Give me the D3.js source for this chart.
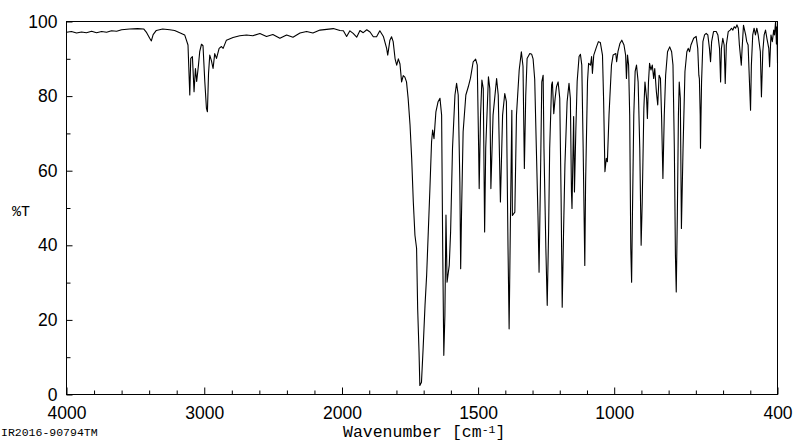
<!DOCTYPE html>
<html><head><meta charset="utf-8">
<script src="https://cdn.jsdelivr.net/npm/d3@7"></script>
<style>html,body{margin:0;padding:0;background:#fff;}svg{display:block;}</style>
</head><body>
<svg id="chart" width="800" height="441"></svg>
<script>
// Wavenumber (cm-1) and %T values
const wavenumber = [
4000,3964,3927,3891,3855,3818,3782,3745,3709,3673,3636,3600,3542,3484,3440,3418,3396,3384,3371,3348,
3302,3251,3215,3178,3142,3118,3105,3098,3086,3074,3064,3055,3042,3033,3020,3009,2996,2984,2977,2969,
2960,2948,2936,2924,2911,2892,2875,2863,2839,2791,2742,2693,2647,2596,2548,2502,2451,2402,2356,2305,
2257,2211,2160,2111,2063,2015,
1995,1983,1971,1959,1946,1934,1922,1909,1897,1885,1873,1861,1848,1836,1832,1824,1818,1812,1805,1799,
1793,1787,1781,1775,1769,1763,1757,1750,1744,1738,1732,1726,1722,1717,1714,1708,1702,1695,1689,1683,
1677,1671,1667,1662,1655,1647,1640,1634,1630,1626,1622,1618,1614,1606,1601,1594,1585,1579,1573,1567,
1564,1561,1555,1545,1536,1528,1518,1509,1503,1498,1496,1491,1486,1481,1476,1472,1462,1457,1453,1445,
1432,1426,1418,1410,1402,1396,1390,1386,1381,1376,1374,1365,1359,1349,1341,1335,1330,1325,1320,1310,
1303,1298,1292,1286,1280,1276,1271,1266,1261,1258,1251,1246,1241,1237,1230,1227,1222,1217,1212,1206,
1200,1195,1191,1186,1181,1173,1166,1161,1157,1155,1149,1146,1141,1136,1129,1124,1119,1114,1108,1105,
1098,1094,1087,1083,1080,1075,1065,1058,1051,1043,1039,1034,1029,1025,1019,1016,1010,1004,994,991,
986,979,972,964,958,955,951,947,943,939,936,933,928,923,918,912,906,901,897,891,
887,881,878,874,870,865,860,855,851,845,840,835,830,826,821,816,811,804,796,789,
784,779,775,772,768,764,761,757,753,747,740,733,728,723,718,708,699,693,689,687,
684,683,679,674,668,662,656,650,646,642,635,625,619,613,609,606,601,596,592,588,
581,574,569,564,559,554,549,544,540,533,530,525,517,513,508,503,499,496,491,486,
481,476,471,463,459,454,449,444,439,432,429,424,419,414,411,407,404,402,400
];
const transmittance = [
97.1,97.3,96.9,97.2,97.0,97.4,97.0,97.3,97.1,97.5,97.4,97.8,98.0,98.1,98.0,97.0,95.5,94.8,96.5,97.6,
98.0,97.8,97.6,97.0,96.4,93.7,80.3,90.1,90.6,81.2,87.4,83.9,88.3,91.9,93.9,93.5,83.9,76.7,75.8,86.0,
91.0,89.5,87.4,91.4,90.1,92.8,93.3,92.8,95.0,95.7,96.2,96.4,96.2,96.8,96.0,96.5,95.5,96.4,95.8,96.9,
97.3,96.9,97.7,97.9,98.1,97.6,
97.5,96.0,97.5,96.8,95.8,97.6,97.0,97.8,97.2,95.9,95.9,97.5,96.0,92.8,91.0,95.0,95.9,94.6,90.0,88.3,
90.0,88.6,83.8,85.5,85.1,83.8,79.4,72.2,63.3,51.6,42.7,39.2,23.0,11.4,2.4,3.3,12.3,23.9,32.0,43.6,
55.2,67.7,70.9,68.6,75.8,78.5,79.4,74.9,39.1,10.5,21.2,48.1,30.1,34.6,43.6,66.0,80.3,83.4,80.3,57.0,
33.7,48.0,70.4,80.3,82.5,84.8,89.2,89.9,88.3,66.0,55.2,74.9,84.3,82.0,43.6,66.0,85.2,82.0,55.2,74.9,
84.7,80.3,51.6,74.9,80.7,78.5,39.1,17.6,48.0,76.2,48.0,48.9,74.9,87.0,91.9,88.0,60.6,80.0,90.1,91.4,
91.2,90.0,84.5,66.0,48.0,32.8,57.0,83.8,85.6,66.0,39.1,23.9,43.6,66.0,83.0,83.8,75.3,79.4,82.5,83.8,
79.4,52.5,23.4,43.6,61.5,78.5,83.4,79.4,54.3,49.9,74.5,54.3,70.5,84.0,90.6,91.2,88.3,66.0,34.6,57.0,
84.0,88.8,88.3,90.6,86.1,91.0,93.2,94.6,94.4,91.0,79.4,59.7,63.3,62.4,74.9,79.4,88.3,91.0,91.4,89.2,
92.0,94.1,95.0,93.7,91.0,84.7,91.0,88.3,74.9,39.1,30.1,48.0,74.9,86.6,88.3,83.8,66.0,40.0,51.6,76.7,
83.8,79.4,74.0,83.8,88.8,87.0,88.3,84.7,87.4,81.2,77.6,85.6,84.7,74.9,57.9,74.9,85.6,91.9,93.2,91.9,
88.3,66.0,37.3,27.5,48.0,74.9,83.8,79.4,44.5,66.0,86.6,91.9,92.8,91.9,93.7,95.5,96.0,92.8,85.6,84.7,
75.0,66.0,83.8,94.6,96.4,96.8,96.4,92.8,89.2,94.6,97.3,97.3,96.4,92.8,83.8,92.8,95.5,93.7,83.4,93.7,
97.3,97.7,98.2,97.7,98.6,98.2,99.1,98.2,93.7,88.3,92.8,99.0,96.4,94.6,93.7,83.8,76.2,88.3,96.4,98.2,
96.4,98.2,96.4,91.9,79.8,91.9,96.4,97.7,95.5,92.8,87.9,96.4,94.6,97.7,96.4,100.0,94.0,98.6,88.8
];
const xMajorTicks = [4000, 3000, 2000, 1500, 1000, 400];
const xMinorTicks = [3800,3600,3400,3200,2800,2600,2400,2200,1900,1800,1700,1600,1400,1300,1200,1100,900,800,700,600,500];
const yMajorTicks = [0, 20, 40, 60, 80, 100];
const yMinorTicks = [10, 30, 50, 70, 90];
const yTitle = "%T";
const xTitle = "Wavenumber [cm";
const sampleId = "IR2016-90794TM";

const svg = d3.select("#chart");
const x = d3.scaleLinear().domain([4000, 2000, 400]).range([66.5, 342, 777.5]);
const y = d3.scaleLinear().domain([0, 100]).range([394.5, 21.5]);
const labelFont = "'Liberation Sans', Arial, sans-serif";
const monoFont = "'Liberation Mono', 'Courier New', monospace";

// frame
svg.append("rect").attr("x", x(4000)).attr("y", y(100))
  .attr("width", x(400) - x(4000)).attr("height", y(0) - y(100))
  .attr("fill", "none").attr("stroke", "#000").attr("stroke-width", 1);

// x axis
const gx = svg.append("g").attr("transform", `translate(0,${y(0)})`);
gx.call(d3.axisBottom(x).tickValues(xMajorTicks).tickFormat(d3.format("d")).tickSize(-7).tickPadding(12.5));
gx.append("g").call(d3.axisBottom(x).tickValues(xMinorTicks).tickFormat("").tickSize(-4));
gx.selectAll(".domain").remove();
gx.selectAll("text").attr("font-family", labelFont).attr("font-size", "17.5px").attr("fill", "#000");
gx.selectAll("line").attr("stroke", "#000");

// y axis
const gy = svg.append("g").attr("transform", `translate(${x(4000)},0)`);
gy.call(d3.axisLeft(y).tickValues(yMajorTicks).tickFormat(d3.format("d")).tickSize(-6).tickPadding(9));
gy.append("g").call(d3.axisLeft(y).tickValues(yMinorTicks).tickFormat("").tickSize(-4));
gy.selectAll(".domain").remove();
gy.selectAll("text").attr("font-family", labelFont).attr("font-size", "17.5px").attr("fill", "#000");
gy.selectAll("line").attr("stroke", "#000");

// spectrum line
const data = wavenumber.map((w, i) => ({w, t: transmittance[i]}));
svg.append("path").datum(data)
  .attr("fill", "none").attr("stroke", "#000").attr("stroke-width", 1.1)
  .attr("stroke-linejoin", "round")
  .attr("d", d3.line().x(d => x(d.w)).y(d => y(d.t)));

// titles
svg.append("text").attr("x", 12).attr("y", 216)
  .attr("font-family", monoFont).attr("font-size", "15px").attr("fill", "#000").text(yTitle);
const xt = svg.append("text").attr("x", 343).attr("y", 437)
  .attr("font-family", monoFont).attr("font-size", "16.5px").attr("fill", "#000");
xt.append("tspan").text(xTitle);
xt.append("tspan").attr("dy", -4).attr("font-size", "11.5px").text("-1");
xt.append("tspan").attr("dy", 4).text("]");
svg.append("text").attr("x", 1).attr("y", 436)
  .attr("font-family", monoFont).attr("font-size", "11.5px").attr("fill", "#000").text(sampleId);
</script>
</body></html>
